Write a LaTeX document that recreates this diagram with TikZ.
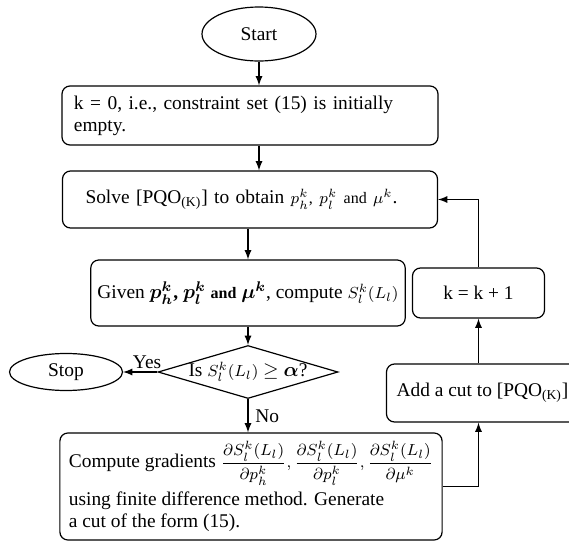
\documentclass[tikz,border=0pt]{standalone}
\usepackage{amsmath}
\usepackage{fontspec}
\setmainfont{Liberation Serif}
\usetikzlibrary{shapes.geometric,positioning}

\tikzstyle{block} = [draw, rectangle, rounded corners=4pt, line width=0.6pt]
\tikzstyle{term} = [draw, ellipse, line width=0.6pt, inner sep=0pt]
\tikzstyle{decision} = [draw, diamond, aspect=3.4, line width=0.6pt, inner xsep=-6pt, inner ysep=0pt]
\tikzstyle{line} = [draw, line width=0.6pt, -latex]

\begin{document}
\begin{tikzpicture}[font=\fontsize{9.7pt}{11pt}\selectfont]
    \useasboundingbox (0,0) rectangle (284.5pt,-271pt);
    \node [term, minimum width=57pt, minimum height=27pt] (start) at (129.5pt,-17pt) {Start};
    \node [block, below of=start, node distance=40.75pt, xshift=-4.5pt, minimum height=29.5pt,
        text width=176pt, inner xsep=6pt, align=left] (init)
        {k = 0, i.e., constraint set (15) is initially\\empty.};
    \node [block, below of=init, node distance=42pt, minimum height=28.5pt,
        text width=164.5pt, inner xsep=11.5pt, align=left] (solve)
        {Solve [PQO\textsubscript{(K)}] to obtain {\footnotesize $p_h^k$, $p_l^k$ and $\mu^k$}.};
    \node [block, below of=solve, node distance=46.75pt, xshift=-1pt, minimum width=151.5pt,
        minimum height=33pt] (given)
        {Given $\boldsymbol{p_h^k}$\textbf{,} $\boldsymbol{p_l^k}$ {\footnotesize\bfseries and} $\boldsymbol{\mu^k}$, compute {\footnotesize $S_l^k(L_l)$}};
    \node [decision, below of=given, node distance=39.5pt, minimum width=90pt,
        minimum height=26.5pt] (check) {Is {\footnotesize $S_l^k(L_l)$} $\geq$ $\boldsymbol{\alpha}$?};
    \node [term, left of=check, node distance=91pt, minimum width=56.5pt,
        minimum height=18.5pt] (stop) {Stop};
    \node [block, below of=check, node distance=57.25pt, xshift=1.5pt, minimum width=167pt,
        minimum height=53.5pt, inner xsep=4.5pt, align=left] (gradient)
        {Compute gradients {\footnotesize $\dfrac{\partial S_l^k(L_l)}{\partial p_h^k}, \dfrac{\partial S_l^k(L_l)}{\partial p_l^k}, \dfrac{\partial S_l^k(L_l)}{\partial \mu^k}$}\\[2pt]
         using finite difference method. Generate\\a cut of the form (15).};
    \node [block, right of=given, node distance=115.25pt, minimum width=66pt,
        minimum height=25pt] (incr) {k = k + 1};
    \node [block, below of=incr, node distance=50pt, xshift=2pt, minimum width=96pt,
        minimum height=29pt] (addcut) {Add a cut to [PQO\textsubscript{(K)}]};
    \draw [line] (start) -- (start |- init.north);
    \draw [line] (init.south -| start) -- (solve.north -| start);
    \draw [line] (solve.south -| given) -- (given);
    \draw [line] (given) -- (check);
    \draw [line] (check) -- node [above, pos=0.3, inner sep=1.5pt] {Yes} (stop);
    \draw [line] (check.south) -- node [right] {No} (check.south |- gradient.north);
    \draw [line] (gradient) -| (addcut.south -| incr);
    \draw [line] (addcut.north -| incr) -- (incr);
    \draw [line] (incr) |- (solve);
\end{tikzpicture}
\end{document}
